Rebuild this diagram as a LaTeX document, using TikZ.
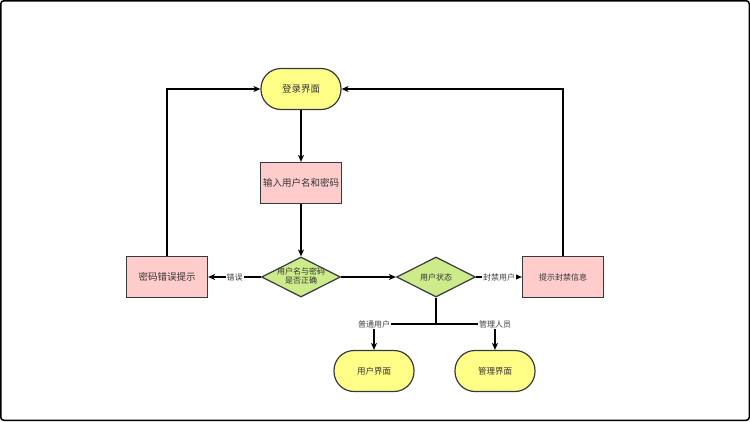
\documentclass[tikz,border=0pt]{standalone}
\usepackage{fontspec}
\setmainfont{Noto Sans CJK SC}
\usetikzlibrary{shapes.geometric, arrows.meta, calc}

\definecolor{termfill}{HTML}{FFFF88}
\definecolor{procfill}{HTML}{FFCCCC}
\definecolor{decfill}{HTML}{CDEB8B}
\definecolor{edgegray}{HTML}{36393D}

\begin{document}
\begin{tikzpicture}[x=1pt, y=-1pt,
	terminal/.style = {draw=edgegray, fill=termfill, line width=1.2pt, rounded corners=20pt,
		minimum width=80pt, minimum height=41pt, inner sep=0pt, text=black!80},
	process/.style = {draw=edgegray, fill=procfill, line width=1.2pt,
		minimum width=81pt, minimum height=41pt, inner sep=0pt, text=black!80},
	decision/.style = {diamond, aspect=2, draw=edgegray, fill=decfill, line width=1.2pt,
		minimum width=79pt, minimum height=40pt, inner sep=0pt, text=black!80,
		font=\fontsize{8}{9.5}\selectfont},
	flow/.style = {line width=1.4pt, -{Stealth[length=7pt, width=6pt, inset=2pt]}},
	tag/.style = {fill=white, inner sep=1pt, text=black!75, font=\fontsize{8}{9.5}\selectfont}
]
	% frame of the page
	\useasboundingbox (0,0) rectangle (750,421);
	\draw[line width=1.5pt, rounded corners=3pt] (0.75,0.75) rectangle (749.25,420.25);

	% nodes
	\node[terminal, font=\fontsize{9.5}{11}\selectfont] (login) at (301,89) {登录界面};
	\node[process, font=\fontsize{9.5}{11}\selectfont] (input) at (301,183) {输入用户名和密码};
	\node[decision] (check) at (301,277) {\makebox[0pt]{\begin{tabular}{@{}c@{}}用户名与密码\\是否正确\end{tabular}}};
	\node[process, font=\fontsize{9.5}{11}\selectfont] (wrongpw) at (167,277) {密码错误提示};
	\node[decision] (state) at (436,277) {\makebox[0pt]{用户状态}};
	\node[process, font=\fontsize{8}{9.5}\selectfont] (banned) at (563,277) {提示封禁信息};
	\node[terminal, font=\fontsize{8.5}{10}\selectfont] (userui) at (374,371) {用户界面};
	\node[terminal, font=\fontsize{8.5}{10}\selectfont] (adminui) at (495,371) {管理界面};
	\coordinate (fork) at (436,324);

	% connectors
	\draw[flow] (login) -- (input);
	\draw[flow] (input) -- (check);
	\draw[flow] (check) -- node[tag] {错误} (wrongpw);
	\draw[flow] (check) -- (state);
	\draw[flow] (state) -- node[tag] {封禁用户} (banned);
	\draw[flow] (wrongpw.north) |- (login.west);
	\draw[flow] (banned.north) |- (login.east);
	\draw[line width=1.4pt] (state.south) -- (fork);
	\draw[flow] (fork) -| node[tag, pos=0.5] {普通用户} (userui.north);
	\draw[flow] (fork) -| node[tag, pos=0.5] {管理人员} (adminui.north);
\end{tikzpicture}
\end{document}
